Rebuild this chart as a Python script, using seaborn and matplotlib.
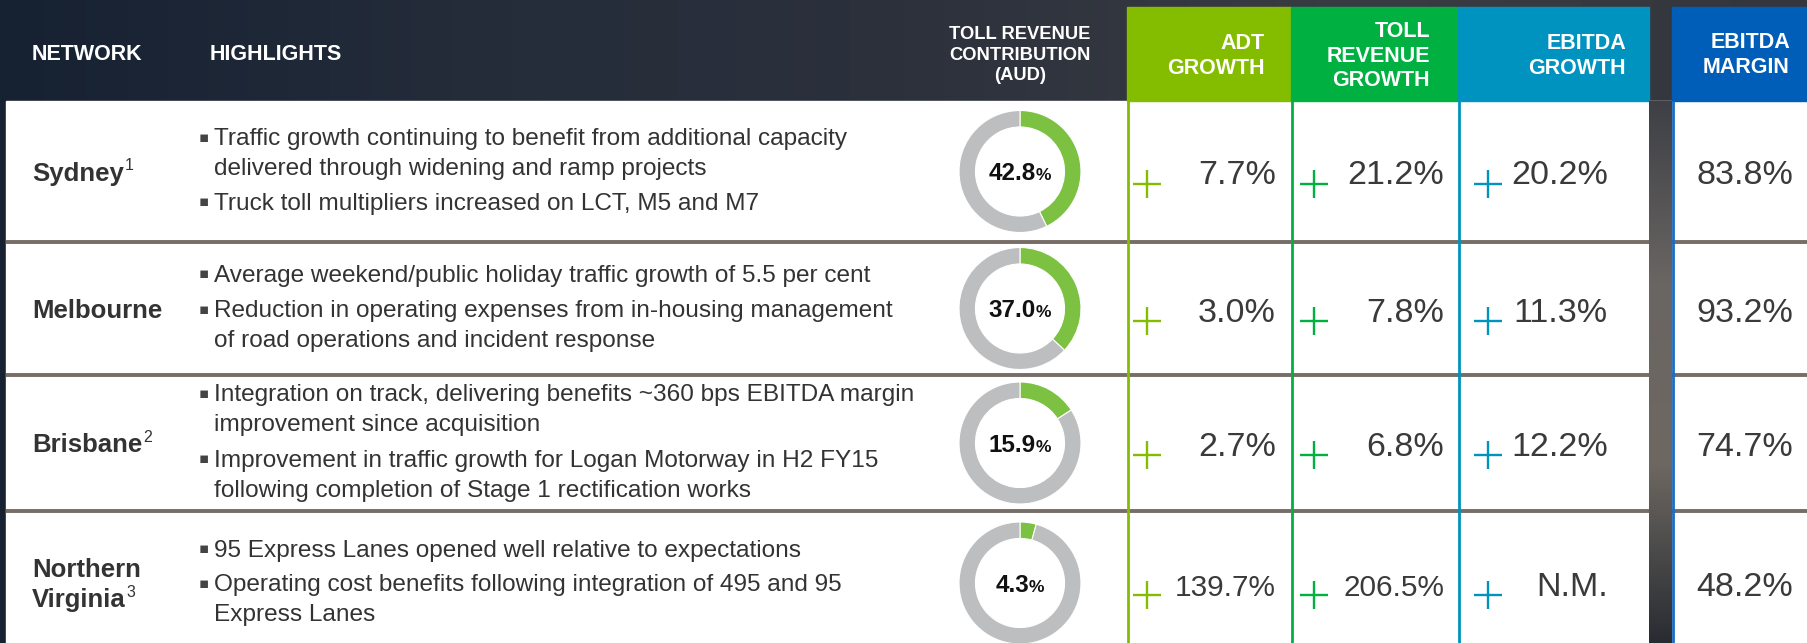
import numpy as np
import matplotlib
matplotlib.use("Agg")
import matplotlib.pyplot as plt
from matplotlib.patches import Rectangle
import seaborn as sns

# ---- data ----
networks = ["Sydney", "Melbourne", "Brisbane", "Northern\nVirginia"]
footnotes = ["1", "", "2", "3"]
highlights = [
    [["Traffic growth continuing to benefit from additional capacity",
      "delivered through widening and ramp projects"],
     ["Truck toll multipliers increased on LCT, M5 and M7"]],
    [["Average weekend/public holiday traffic growth of 5.5 per cent"],
     ["Reduction in operating expenses from in-housing management",
      "of road operations and incident response"]],
    [["Integration on track, delivering benefits ~360 bps EBITDA margin",
      "improvement since acquisition"],
     ["Improvement in traffic growth for Logan Motorway in H2 FY15",
      "following completion of Stage 1 rectification works"]],
    [["95 Express Lanes opened well relative to expectations"],
     ["Operating cost benefits following integration of 495 and 95",
      "Express Lanes"]],
]
toll_share = [42.8, 37.0, 15.9, 4.3]
adt_growth = [7.7, 3.0, 2.7, 139.7]
toll_growth = [21.2, 7.8, 6.8, 206.5]
ebitda_growth = [20.2, 11.3, 12.2, None]
ebitda_margin = [83.8, 93.2, 74.7, 48.2]
growth_headers = ["ADT\nGROWTH", "TOLL\nREVENUE\nGROWTH", "EBITDA\nGROWTH"]
margin_header = "EBITDA\nMARGIN"

# ---- style ----
sns.set_theme(style="white")
plt.rcParams["font.family"] = ["Liberation Sans", "DejaVu Sans"]

W, H = 1808, 643
head_top, head_bot = 7, 101
row_edges = [101, 242, 375, 511, 655]
row_centers = [(a + b) / 2 for a, b in zip(row_edges[:-1], row_edges[1:])]
growth_cols = [1127, 1291, 1458, 1649]
margin_col = (1672, W)
growth_colors = ["#84bd00", "#00b040", "#0093bf"]
margin_color = "#005eb8"
value_right = [1276, 1444, 1608]
value_maxw = 101
plus_x = [1147, 1314, 1488]
donut_x, donut_r = 1020, 61
green, grey = "#7dc142", "#bdbec0"
dark = "#333333"

fig = plt.figure(figsize=(W / 100, H / 100), dpi=100)
ax = fig.add_axes([0, 0, 1, 1])
ax.set_xlim(0, W)
ax.set_ylim(H, 0)
ax.axis("off")

# dark photo-like background
stops = np.array([[22, 33, 50], [36, 44, 58], [44, 49, 60], [58, 60, 67], [52, 54, 60]]) / 255
xs = np.linspace(0, 1, len(stops))
g = np.linspace(0, 1, 400)
grad = np.stack([np.interp(g, xs, stops[:, k]) for k in range(3)], axis=-1)[None, :, :]
ax.imshow(grad, extent=[0, W, H, 0], aspect="auto", zorder=0)

# white table body
ax.add_patch(Rectangle((6, head_bot), W - 6, H - head_bot, color="white", zorder=1))
ax.hlines(row_edges[1:-1], 6, W, color="#776d66", lw=2.8, zorder=2)

# coloured headers and column rules
for i, col in enumerate(growth_colors):
    x0, x1 = growth_cols[i], growth_cols[i + 1]
    ax.add_patch(Rectangle((x0, head_top), x1 - x0, head_bot - head_top, color=col, zorder=2))
    ax.vlines(x0 + 1, head_bot, H, color=col, lw=2, zorder=3)
ax.add_patch(Rectangle((margin_col[0], head_top), margin_col[1] - margin_col[0],
                       head_bot - head_top, color=margin_color, zorder=2))
ax.vlines(margin_col[0] + 1, head_bot, H, color="#1a6cc4", lw=2, zorder=3)

# dark gap between growth and margin columns
vs = np.array([[62, 64, 70], [105, 101, 98], [110, 104, 98], [40, 44, 50]]) / 255
vy = np.linspace(0, 1, len(vs))
gv = np.linspace(0, 1, 300)
vgrad = np.stack([np.interp(gv, vy, vs[:, k]) for k in range(3)], axis=-1)[:, None, :]
ax.imshow(vgrad, extent=[growth_cols[-1], margin_col[0], H, head_bot], aspect="auto", zorder=4)
ax.set_xlim(0, W)
ax.set_ylim(H, 0)

# header text
hkw = dict(color="white", fontweight="bold", zorder=5)
ax.text(32, 54, "NETWORK", fontsize=15.5, va="center", **hkw)
ax.text(210, 54, "HIGHLIGHTS", fontsize=15.5, va="center", **hkw)
ax.text(donut_x, 55, "TOLL REVENUE\nCONTRIBUTION\n(AUD)", fontsize=13.2, va="center",
        ha="center", multialignment="center", linespacing=1.25, **hkw)
head_right = [1265, 1430, 1626]
for txt, xr in zip(growth_headers, head_right):
    ax.text(xr, 56, txt, fontsize=15.5, va="center", ha="right", multialignment="right",
            linespacing=1.22, **hkw)
ax.text(1790, 55, margin_header, fontsize=15.5, va="center", ha="right",
        multialignment="right", linespacing=1.22, **hkw)

renderer = fig.canvas.get_renderer()


def width_of(t):
    return t.get_window_extent(renderer=renderer).width


for i, yc in enumerate(row_centers):
    # network name with footnote
    parts = networks[i].split("\n")
    base0 = yc + 9 - 15 * (len(parts) - 1)
    for k, p in enumerate(parts):
        t = ax.text(32, base0 + 30 * k, p, fontsize=18.5, fontweight="bold", color=dark,
                    va="baseline", zorder=5)
    if footnotes[i]:
        ax.text(32 + width_of(t) + 1, base0 + 30 * (len(parts) - 1) - 10, footnotes[i],
                fontsize=11.5, color=dark, va="baseline", zorder=5)

    # bullet highlights
    offs, lines = [], []
    y = 0
    for item in highlights[i]:
        for j, line in enumerate(item):
            if lines:
                y += 30 if j > 0 else 35
            lines.append((line, j == 0))
            offs.append(y)
    shift = yc - offs[-1] / 2
    for (line, first), o in zip(lines, offs):
        if first:
            ax.text(199, shift + o - 2, "\u25aa", fontsize=11, color="#444444",
                    va="center", ha="left", family=["DejaVu Sans"], zorder=5)
        ax.text(214, shift + o, line, fontsize=17.6, color="#333333", va="center", zorder=5)

    # donut of toll revenue contribution
    dax = fig.add_axes([(donut_x - donut_r) / W, 1 - (yc + donut_r) / H,
                        2 * donut_r / W, 2 * donut_r / H])
    dax.pie([toll_share[i], 100 - toll_share[i]], colors=[green, grey], startangle=90,
            counterclock=False, radius=1,
            wedgeprops=dict(width=0.27, edgecolor="white", linewidth=0.8))
    dax.set_xlim(-1, 1)
    dax.set_ylim(-1, 1)
    dax.set_aspect("auto")
    dax.axis("off")
    n1 = ax.text(0, yc + 8.5, f"{toll_share[i]:.1f}", fontsize=17.5, fontweight="bold",
                 color="#111111", va="baseline", zorder=5)
    n2 = ax.text(0, yc + 8.5, "%", fontsize=12.5, fontweight="bold", color="#111111",
                 va="baseline", zorder=5)
    w1, w2 = width_of(n1), width_of(n2)
    n1.set_x(donut_x - (w1 + w2) / 2)
    n2.set_x(donut_x - (w1 + w2) / 2 + w1)

    # growth values with plus signs
    for k, vals in enumerate([adt_growth, toll_growth, ebitda_growth]):
        v = vals[i]
        label = "N.M." if v is None else f"{v:.1f}%"
        vt = ax.text(value_right[k], yc + 4.5, label, fontsize=24.5, color="#3a3a3a",
                     ha="right", va="center", zorder=5)
        w = width_of(vt)
        if w > value_maxw:
            vt.set_fontsize(24.5 * value_maxw / w)
        ax.plot([plus_x[k]], [yc + 12], marker="+", ms=20, mew=1.7,
                color=growth_colors[k], ls="none", zorder=5)
    ax.text(1793, yc + 4.5, f"{ebitda_margin[i]:.1f}%", fontsize=24.5, color="#3a3a3a",
            ha="right", va="center", zorder=5)

ax.set_xlim(0, W)
ax.set_ylim(H, 0)
fig.savefig("out.png", dpi=100)
